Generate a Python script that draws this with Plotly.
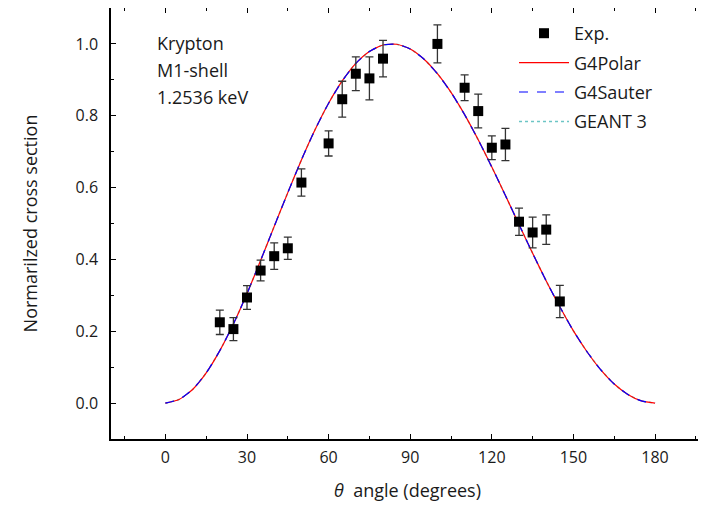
"""Normalized photoelectron angular distribution, Krypton M1-shell at 1.2536 keV."""

import plotly.graph_objects as go

FONT_STACK = "'Open Sans', 'Noto Sans', 'Liberation Sans', sans-serif"
TEXT_COLOR = "#1a1a1a"

# Experimental points (angle in degrees, normalized cross section, error)
exp_angles = [20, 25, 30, 35, 40, 45, 50, 60, 65, 70, 75, 80,
              100, 110, 115, 120, 125, 130, 135, 140, 145]
exp_values = [0.225, 0.206, 0.294, 0.369, 0.409, 0.431, 0.614, 0.723, 0.846, 0.917, 0.904, 0.959,
              1.000, 0.878, 0.813, 0.711, 0.720, 0.505, 0.475, 0.483, 0.283]
exp_errors = [0.034, 0.032, 0.033, 0.029, 0.037, 0.031, 0.038, 0.035, 0.050, 0.047, 0.060, 0.051,
              0.053, 0.036, 0.047, 0.033, 0.045, 0.038, 0.043, 0.041, 0.045]

# Simulated curves, every 5 degrees (the three models overlap)
curve_angles = [0, 5, 10, 15, 20, 25, 30, 35, 40, 45, 50, 55, 60, 65, 70, 75, 80, 85, 90,
                95, 100, 105, 110, 115, 120, 125, 130, 135, 140, 145, 150, 155, 160, 165, 170, 175, 180]
g4polar_values = [0.0, 0.010, 0.038, 0.084, 0.146, 0.220, 0.305, 0.397, 0.492, 0.586, 0.677,
                  0.761, 0.835, 0.897, 0.946, 0.979, 0.997, 0.999, 0.986,
                  0.958, 0.917, 0.865, 0.803, 0.733, 0.657, 0.578, 0.497, 0.417, 0.340,
                  0.268, 0.201, 0.143, 0.093, 0.053, 0.024, 0.006, 0.0]
g4sauter_values = [0.0, 0.010, 0.038, 0.084, 0.146, 0.220, 0.305, 0.397, 0.492, 0.586, 0.677,
                   0.761, 0.835, 0.897, 0.946, 0.979, 0.997, 0.999, 0.986,
                   0.958, 0.917, 0.865, 0.803, 0.733, 0.657, 0.578, 0.497, 0.417, 0.340,
                   0.268, 0.201, 0.143, 0.093, 0.053, 0.024, 0.006, 0.0]
geant3_values = [0.0, 0.010, 0.038, 0.084, 0.146, 0.220, 0.305, 0.397, 0.492, 0.586, 0.677,
                 0.761, 0.835, 0.897, 0.946, 0.979, 0.997, 0.999, 0.986,
                 0.958, 0.917, 0.865, 0.803, 0.733, 0.657, 0.578, 0.497, 0.417, 0.340,
                 0.268, 0.201, 0.143, 0.093, 0.053, 0.024, 0.006, 0.0]

x_tick_values = [0, 30, 60, 90, 120, 150, 180]
y_tick_values = [0.0, 0.2, 0.4, 0.6, 0.8, 1.0]
info_lines = ["Krypton", "M1-shell", "1.2536 keV"]

# The page body has an 8px margin, so the figure is shrunk by that much;
# pixel positions below are figure pixels (screenshot position minus 8).
PAGE_MARGIN = 8
fig_width, fig_height = 706 - PAGE_MARGIN, 506 - PAGE_MARGIN
plot_left = 111 - PAGE_MARGIN
plot_right = 704 - PAGE_MARGIN
plot_top = 0
plot_bottom = 438.7 - PAGE_MARGIN


def to_paper(px, py):
    """Convert screenshot pixel position to paper coordinates."""
    x = (px - PAGE_MARGIN - plot_left) / (plot_right - plot_left)
    y = (plot_bottom - (py - PAGE_MARGIN)) / (plot_bottom - plot_top)
    return x, y


fig = go.Figure()

# Curves: GEANT 3 at the bottom, G4Sauter dashes on top of G4Polar
fig.add_trace(
    go.Scatter(
        x=curve_angles,
        y=geant3_values,
        mode="lines",
        name="GEANT 3",
        line={"color": "#6cc5c5", "width": 1.5, "dash": "dot", "shape": "spline", "smoothing": 0.6},
        legendgroup="g3",
        legendrank=4,
    )
)
fig.add_trace(
    go.Scatter(
        x=curve_angles,
        y=g4polar_values,
        mode="lines",
        name="G4Polar",
        line={"color": "#ff0000", "width": 1.2, "shape": "spline", "smoothing": 0.6},
        legendgroup="polar",
        legendrank=2,
    )
)
fig.add_trace(
    go.Scatter(
        x=curve_angles,
        y=g4sauter_values,
        mode="lines",
        name="G4Sauter",
        line={"color": "#0000ff", "width": 1.2, "dash": "dash", "shape": "spline", "smoothing": 0.6},
        legendgroup="sauter",
        legendrank=3,
    )
)

# Experimental data
fig.add_trace(
    go.Scatter(
        x=exp_angles,
        y=exp_values,
        mode="markers",
        name="Exp.",
        marker={"symbol": "square", "size": 10, "color": "#000000"},
        error_y={"type": "data", "array": exp_errors, "color": "#333333", "thickness": 1.3, "width": 4},
        legendgroup="exp",
        legendrank=1,
    )
)

# Text block in upper left
for i, line in enumerate(info_lines):
    ax, ay = to_paper(155, 43 + 27 * i)
    fig.add_annotation(
        x=ax,
        y=ay,
        xref="paper",
        yref="paper",
        text=line,
        showarrow=False,
        xanchor="left",
        yanchor="middle",
        font={"family": FONT_STACK, "size": 18, "color": TEXT_COLOR},
    )

axis_common = {
    "showline": True,
    "linecolor": "#000000",
    "linewidth": 1.5,
    "mirror": "allticks",
    "ticks": "inside",
    "ticklen": 5,
    "tickwidth": 1.2,
    "tickcolor": "#000000",
    "showgrid": False,
    "zeroline": False,
    "automargin": False,
    "tickfont": {"family": FONT_STACK, "size": 16, "color": TEXT_COLOR},
}

legend_x, legend_y = to_paper(514, 15)

fig.update_layout(
    width=fig_width,
    height=fig_height,
    paper_bgcolor="#ffffff",
    plot_bgcolor="#ffffff",
    margin={
        "l": plot_left,
        "r": fig_width - plot_right,
        "t": plot_top,
        "b": fig_height - plot_bottom,
    },
    font={"family": FONT_STACK, "size": 16, "color": TEXT_COLOR},
    xaxis={
        **axis_common,
        "range": [-20, 198],
        "tickmode": "array",
        "tickvals": x_tick_values,
        "ticktext": [str(v) for v in x_tick_values],
        "ticklabelstandoff": 3,
        "minor": {"dtick": 15, "tick0": 0, "ticks": "inside", "ticklen": 3, "tickcolor": "#000000"},
        "title": {
            "text": "<i>θ</i>  angle (degrees)",
            "font": {"family": FONT_STACK, "size": 18, "color": TEXT_COLOR},
            "standoff": 17,
        },
    },
    yaxis={
        **axis_common,
        "range": [-0.1, 1.1],
        "tickmode": "array",
        "tickvals": y_tick_values,
        "ticktext": [f"{v:.1f}" for v in y_tick_values],
        "ticklabelstandoff": 8,
        "minor": {"dtick": 0.1, "tick0": 0, "ticks": "inside", "ticklen": 3, "tickcolor": "#000000"},
        "title": {
            "text": "Normarilzed cross section",
            "font": {"family": FONT_STACK, "size": 18, "color": TEXT_COLOR},
            "standoff": 33,
        },
    },
    showlegend=True,
    legend={
        "x": legend_x,
        "y": legend_y,
        "xanchor": "left",
        "yanchor": "top",
        "bgcolor": "rgba(0,0,0,0)",
        "font": {"family": FONT_STACK, "size": 18, "color": TEXT_COLOR},
        "tracegroupgap": 3,
        "itemwidth": 50,
    },
)

fig.write_html("out.html")
